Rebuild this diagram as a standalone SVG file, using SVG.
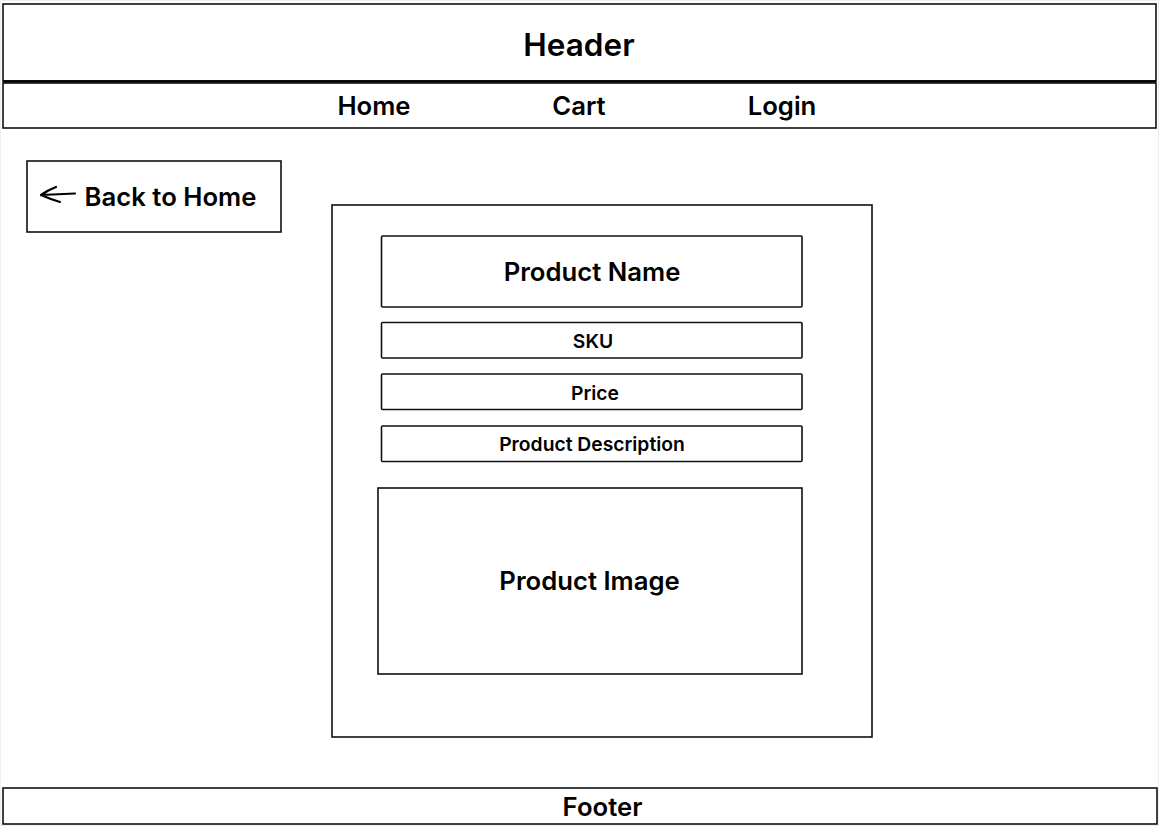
<svg xmlns="http://www.w3.org/2000/svg" width="1159" height="826" viewBox="0 0 1159 826">
<style>
.box{fill:#fff;stroke:#111;stroke-width:1.6}
.t{font-family:Inter,"Liberation Sans",sans-serif;font-weight:600;fill:#000;text-anchor:middle}
.l{font-size:25.7px}
.m{font-size:19.3px}
</style>
<rect x="0" y="0" width="1159" height="826" fill="#fff"/>
<rect x="0.5" y="0.5" width="1158" height="825" fill="none" stroke="#eee" stroke-width="1"/>
<g id="header">
<rect class="box" x="3" y="4" width="1153" height="77"/>
<line x1="3" y1="81.5" x2="1156" y2="81.5" stroke="#000" stroke-width="2.5"/>
<text class="t" x="579" y="55.5" font-size="31.5">Header</text>
</g>
<g id="nav">
<rect class="box" x="3" y="83" width="1153" height="45"/>
<text class="t l" x="374" y="115">Home</text>
<text class="t l" x="579" y="115">Cart</text>
<text class="t l" x="782" y="115">Login</text>
</g>
<g id="back">
<rect class="box" x="27" y="161" width="254" height="71"/>
<path d="M75 193.5 L41 195 M41 195 Q48 190 56 187 M41 195 Q50 199 60 202" fill="none" stroke="#000" stroke-width="2.2" stroke-linecap="round"/>
<text class="t l" x="170.5" y="206">Back to Home</text>
</g>
<g id="container">
<rect class="box" x="332" y="205" width="540" height="532"/>
</g>
<g id="product-name">
<rect class="box" x="381.5" y="236" width="420.5" height="71" rx="1"/>
<text class="t l" x="592" y="281">Product Name</text>
</g>
<g id="sku">
<rect class="box" x="381.5" y="322.5" width="420.5" height="35.5" rx="1"/>
<text class="t m" x="593" y="347.5">SKU</text>
</g>
<g id="price">
<rect class="box" x="381.5" y="374" width="420.5" height="35.5" rx="1"/>
<text class="t m" x="595" y="399.5">Price</text>
</g>
<g id="description">
<rect class="box" x="381.5" y="426" width="420.5" height="35.5" rx="1"/>
<text class="t m" x="592" y="450.5">Product Description</text>
</g>
<g id="product-image">
<rect class="box" x="378" y="488" width="424" height="186"/>
<text class="t l" x="589.5" y="590">Product Image</text>
</g>
<g id="footer">
<rect class="box" x="3" y="788" width="1154" height="36"/>
<text class="t l" x="602.5" y="815.5">Footer</text>
</g>
<g id="connectors"></g>
</svg>
